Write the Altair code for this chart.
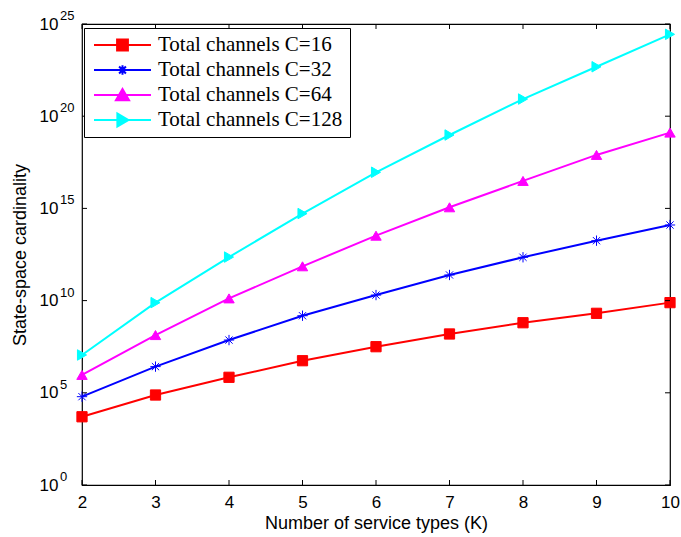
import altair as alt
import pandas as pd

# ---------------- data (log10 of state-space cardinality) ----------------
K = [2, 3, 4, 5, 6, 7, 8, 9, 10]
c16 = [3.70, 4.88, 5.84, 6.74, 7.50, 8.19, 8.80, 9.31, 9.89]
c32 = [4.79, 6.42, 7.86, 9.18, 10.30, 11.39, 12.35, 13.25, 14.10]
c64 = [5.97, 8.13, 10.12, 11.86, 13.52, 15.06, 16.49, 17.90, 19.11]
c128 = [7.05, 9.89, 12.36, 14.72, 16.96, 18.98, 20.93, 22.68, 24.44]

names = ["Total channels C=16", "Total channels C=32",
         "Total channels C=64", "Total channels C=128"]
colors = ["#ff0000", "#0000ff", "#ff00ff", "#00ffff"]
y_exps = [0, 5, 10, 15, 20, 25]
x_ticks = K

ASTER = "M-1,0H1M0,-1V1M-0.7,-0.7L0.7,0.7M-0.7,0.7L0.7,-0.7"
marker_shapes = ["square", ASTER, "triangle-up", "triangle-right"]
marker_sizes = [105, 110, 190, 170]

LINE = "M-1,0H1"
legend_shapes = [
    LINE + "M-0.19,-0.19H0.19V0.19H-0.19Z",
    LINE + "M-0.17,0H0.17M0,-0.17V0.17M-0.12,-0.12L0.12,0.12M-0.12,0.12L0.12,-0.12",
    LINE + "M0,-0.21L0.23,0.18L-0.23,0.18Z",
    LINE + "M0.21,0L-0.18,-0.23L-0.18,0.23Z",
]

rows = []
for nm, vals in zip(names, [c16, c32, c64, c128]):
    for k, v in zip(K, vals):
        rows.append({"K": k, "value": 10 ** v, "series": nm})
df = pd.DataFrame(rows)

W, H = 588, 461
SANS = "Liberation Sans"

xscale = alt.Scale(domain=[2, 10], nice=False, zero=False)
yscale = alt.Scale(type="log", domain=[1, 1e25], nice=False)

x = alt.X("K:Q", scale=xscale,
          axis=alt.Axis(values=x_ticks, format="d", title="Number of service types (K)",
                        ticks=False, domain=False, grid=False,
                        labelFont=SANS, labelFontSize=17, labelColor="black",
                        labelPadding=9, titleFont=SANS, titleFontSize=18,
                        titleFontWeight="normal", titleColor="black", titlePadding=4,
                        labelFlush=False))
y = alt.Y("value:Q", scale=yscale,
          axis=alt.Axis(values=[10 ** e for e in y_exps], labelExpr="'10'",
                        title="State-space cardinality", ticks=False, domain=False,
                        grid=False, labelFont=SANS, labelFontSize=17,
                        labelColor="black", labelPadding=24, titleFont=SANS,
                        titleFontSize=18, titleFontWeight="normal",
                        titleColor="black", titlePadding=10))

sdom = alt.Scale(domain=names, range=colors)

lines = alt.Chart(df).mark_line(strokeWidth=2).encode(
    x=x, y=y, color=alt.Color("series:N", scale=sdom, legend=None))

points = alt.Chart(df).mark_point(filled=True, opacity=1, strokeWidth=1).encode(
    x=alt.X("K:Q", scale=xscale), y=alt.Y("value:Q", scale=yscale),
    fill=alt.Fill("series:N", scale=sdom, legend=None),
    stroke=alt.Stroke("series:N", scale=sdom, legend=None),
    shape=alt.Shape("series:N", scale=alt.Scale(domain=names, range=marker_shapes), legend=None),
    size=alt.Size("series:N", scale=alt.Scale(domain=names, range=marker_sizes), legend=None),
)

leg = dict(orient="none", legendX=2, legendY=4, title=None,
           strokeColor="black", fillColor="white", padding=7,
           labelFont="Liberation Serif", labelFontSize=21, labelColor="black",
           labelLimit=0, symbolSize=3249, symbolStrokeWidth=2, symbolOffset=2,
           labelOffset=6, rowPadding=4, clipHeight=20)

legend_layer = alt.Chart(df).transform_filter("false").mark_point(
    filled=True, opacity=1, strokeWidth=2).encode(
    x=alt.X("K:Q", scale=xscale), y=alt.Y("value:Q", scale=yscale),
    fill=alt.Fill("series:N", scale=sdom, legend=alt.Legend(**leg)),
    stroke=alt.Stroke("series:N", scale=sdom, legend=alt.Legend(**leg)),
    shape=alt.Shape("series:N", scale=alt.Scale(domain=names, range=legend_shapes),
                    legend=alt.Legend(**leg)),
)

# superscript exponents of the y tick labels
exp_df = pd.DataFrame({"value": [10 ** e for e in y_exps], "e": [str(e) for e in y_exps]})
exps = alt.Chart(exp_df).mark_text(align="left", baseline="alphabetic", dy=-4,
                                   font=SANS, fontSize=13, color="black").encode(
    x=alt.value(-22), y=alt.Y("value:Q", scale=yscale), text="e:N")

# inward tick marks (MATLAB style)
xt_df = pd.DataFrame({"K": x_ticks})
yt_df = pd.DataFrame({"value": [10 ** e for e in y_exps]})
xt_bot = alt.Chart(xt_df).mark_rule(color="black", strokeWidth=1).encode(
    x=alt.X("K:Q", scale=xscale), y=alt.value(H), y2=alt.value(H - 5))
xt_top = alt.Chart(xt_df).mark_rule(color="black", strokeWidth=1).encode(
    x=alt.X("K:Q", scale=xscale), y=alt.value(0), y2=alt.value(5))
yt_l = alt.Chart(yt_df).mark_rule(color="black", strokeWidth=1).encode(
    y=alt.Y("value:Q", scale=yscale), x=alt.value(0), x2=alt.value(5))
yt_r = alt.Chart(yt_df).mark_rule(color="black", strokeWidth=1).encode(
    y=alt.Y("value:Q", scale=yscale), x=alt.value(W - 5), x2=alt.value(W))

chart = alt.layer(lines, points, legend_layer, exps, xt_bot, xt_top, yt_l, yt_r).resolve_scale(
    color="independent", fill="independent", stroke="independent",
    shape="independent", size="independent"
).properties(
    width=W, height=H, autosize=alt.AutoSizeParams(type="none"),
    padding={"left": 82, "top": 24, "right": 11, "bottom": 52},
    background="white",
).configure_view(stroke="black", strokeWidth=1.2)

chart.save("out.html", embed_options={"renderer": "svg", "actions": False})
